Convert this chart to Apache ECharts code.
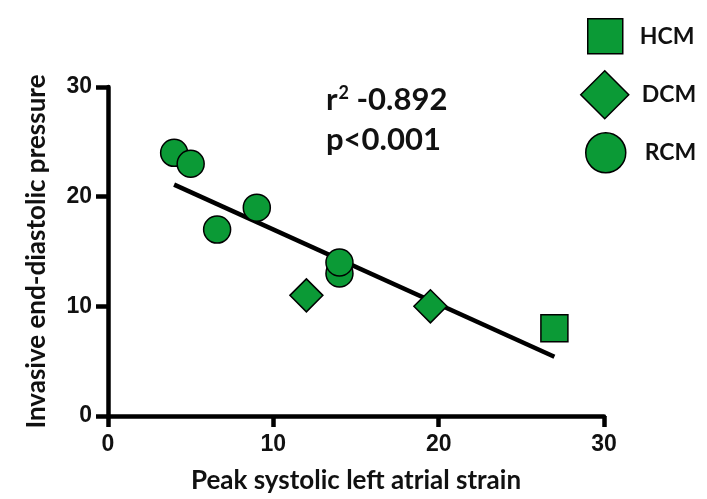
<!DOCTYPE html>
<html>
<head>
<meta charset="utf-8">
<script src="https://cdn.jsdelivr.net/npm/echarts@6/dist/echarts.min.js"></script>
<style>html,body{margin:0;padding:0;background:#fff}#c{width:707px;height:499px}</style>
</head>
<body>
<div id="c"></div>
<script>
const xTicks = [0, 10, 20, 30];
const yTicks = [0, 10, 20, 30];
const hcm = [[27, 8]];
const dcm = [[12, 11], [19.5, 10]];
const rcm = [[4, 24], [5, 23], [6.6, 17], [9, 19], [14, 13], [14, 14]];
const fitLine = [[4, 21.1], [27, 5.4]];
const statR = '-0.892';
const statP = 'p<0.001';

const green = '#0b9a36';
const edge = { borderColor: '#000', borderWidth: 1.5, opacity: 1 };
const lbl = { fontFamily: 'Lato', fontWeight: 'bold', fontSize: 23, color: '#111' };

const chart = echarts.init(document.getElementById('c'));
chart.setOption({
  animation: false,
  backgroundColor: '#fff',
  grid: { left: 108, right: 103, top: 87, bottom: 81 },
  xAxis: {
    type: 'value', min: xTicks[0], max: xTicks[xTicks.length - 1], interval: 10,
    name: 'Peak systolic left atrial strain', nameLocation: 'middle', nameGap: 52,
    nameTextStyle: { fontFamily: 'Lato', fontWeight: 'bold', fontSize: 26, color: '#111' },
    axisLine: { show: true, onZero: false, lineStyle: { color: '#000', width: 4.5 } },
    axisTick: { show: true, inside: false, length: 11, lineStyle: { color: '#000', width: 4.5 } },
    axisLabel: { fontFamily: 'Liberation Sans', fontWeight: 'bold', fontSize: 23, color: '#111', margin: 17 },
    splitLine: { show: false }
  },
  yAxis: {
    type: 'value', min: yTicks[0], max: yTicks[yTicks.length - 1], interval: 10,
    name: 'Invasive end-diastolic pressure', nameLocation: 'middle', nameGap: 58,
    nameTextStyle: { fontFamily: 'Lato', fontWeight: 'bold', fontSize: 26, color: '#111' },
    axisLine: { show: true, onZero: false, lineStyle: { color: '#000', width: 4.5 } },
    axisTick: { show: true, inside: false, length: 12, lineStyle: { color: '#000', width: 4.5 } },
    axisLabel: { fontFamily: 'Liberation Sans', fontWeight: 'bold', fontSize: 23, color: '#111', margin: 16 },
    splitLine: { show: false }
  },
  legend: [
    { data: ['HCM'], left: 582, top: 13, icon: 'rect', itemWidth: 35, itemHeight: 35,
      itemStyle: edge, textStyle: Object.assign({ padding: [0, 0, 0, 12] }, lbl) },
    { data: ['DCM'], left: 575, top: 65, icon: 'diamond', itemWidth: 48, itemHeight: 48,
      itemStyle: edge, textStyle: Object.assign({ padding: [0, 0, 0, 8] }, lbl) },
    { data: ['RCM'], left: 580, top: 127, icon: 'circle', itemWidth: 40, itemHeight: 40,
      itemStyle: edge, textStyle: Object.assign({ padding: [0, 0, 0, 14] }, lbl) }
  ],
  graphic: [
    { type: 'text', left: 326, top: 84, z: 10,
      style: { text: '{b|r}{s|2}{b| ' + statR + '}', rich: {
        b: { fontFamily: 'Lato', fontWeight: 'bold', fontSize: 31, fill: '#111' },
        s: { fontFamily: 'Lato', fontWeight: 'bold', fontSize: 18, fill: '#111', verticalAlign: 'top', padding: [0, 0, 14, 1] }
      } } },
    { type: 'text', left: 326, top: 124, z: 10,
      style: { text: statP, fontFamily: 'Lato', fontWeight: 'bold', fontSize: 31, fill: '#111' } }
  ],
  series: [
    { type: 'line', name: 'fit', data: fitLine, symbol: 'none', z: 1,
      lineStyle: { color: '#000', width: 4.5 } },
    { type: 'scatter', name: 'HCM', data: hcm, symbol: 'rect', symbolSize: 27, z: 3,
      itemStyle: Object.assign({ color: green }, edge) },
    { type: 'scatter', name: 'DCM', data: dcm, symbol: 'diamond', symbolSize: 33, z: 3,
      itemStyle: Object.assign({ color: green }, edge) },
    { type: 'scatter', name: 'RCM', data: rcm, symbol: 'circle', symbolSize: 27, z: 3,
      itemStyle: Object.assign({ color: green }, edge) }
  ]
});
</script>
</body>
</html>
